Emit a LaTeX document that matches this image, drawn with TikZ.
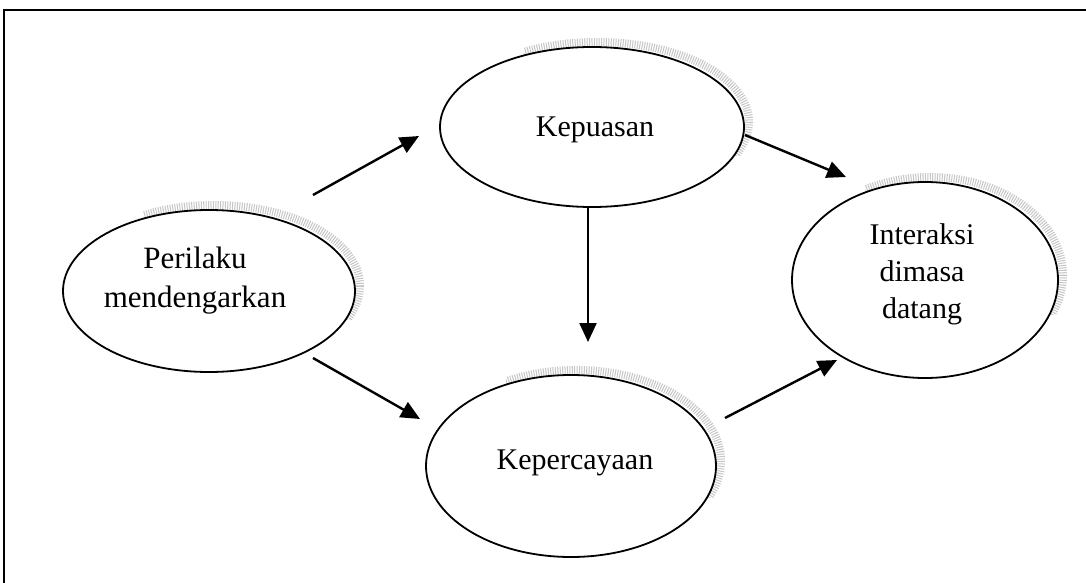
\documentclass[tikz,border=0pt]{standalone}
\usepackage{fontspec}
\setmainfont{Liberation Serif}
\usetikzlibrary{arrows.meta,shapes.geometric}

\tikzset{
  bubble/.style={ellipse, draw=black, line width=1.8pt, fill=white, inner sep=0pt},
  halo/.style={draw=gray!45, line width=8pt, dash pattern=on 1pt off 1.4pt},
  label text/.style={font=\fontsize{30}{37}\selectfont, align=center, inner sep=0pt},
  big text/.style={font=\fontsize{31}{39}\selectfont, align=center, inner sep=0pt},
  flow/.style={draw=black, line width=2.4pt, -{Triangle[length=19pt,width=17pt]}},
}

% shadow arc on the upper right of an ellipse: centre, x radius, y radius
\newcommand{\haloarc}[4]{%
  \begin{scope}
    \clip (#1-0.45*#3,#2-#4-20) rectangle (#1+#3+20,#2+0.35*#4);
    \draw[halo] (#1+5,#2-5) ellipse [x radius=#3, y radius=#4];
  \end{scope}}

\begin{document}
\begin{tikzpicture}[x=1pt,y=-1pt]
  \useasboundingbox (0,0) rectangle (1086,583);
  \fill[white] (0,0) rectangle (1086,583);

  % outer frame (top and left edges only)
  \draw[line width=1.5pt] (4,590) -- (4,10) -- (1095,10);

  % shadows
  \haloarc{209}{291}{146}{81}
  \haloarc{592}{127}{152}{80}
  \haloarc{571}{466}{145}{91}
  \haloarc{925}{280}{133}{98}

  % ellipses
  \node[bubble, minimum width=292pt, minimum height=162pt] (per) at (209,291) {};
  \node[bubble, minimum width=304pt, minimum height=160pt] (kep) at (592,127) {};
  \node[bubble, minimum width=290pt, minimum height=182pt] (kpc) at (571,466) {};
  \node[bubble, minimum width=266pt, minimum height=196pt] (int) at (925,280) {};

  % labels
  \node[big text] (tper) at (195,281) {Perilaku\\mendengarkan};
  \node[label text] (tkep) at (595,130) {Kepuasan};
  \node[label text] (tkpc) at (575,463) {Kepercayaan};
  \node[label text] (tint) at (922,274) {Interaksi\\dimasa\\datang};

  % arrow end points
  \coordinate (a1s) at (313,195); \coordinate (a1e) at (419,136);
  \coordinate (a2s) at (313,358); \coordinate (a2e) at (420,419);
  \coordinate (a3s) at (588,208); \coordinate (a3e) at (588,342);
  \coordinate (a4s) at (745,135); \coordinate (a4e) at (846,177);
  \coordinate (a5s) at (725,418); \coordinate (a5e) at (837,360);

  \draw[flow] (a1s) -- (a1e);
  \draw[flow] (a2s) -- (a2e);
  \draw[flow] (a3s) -- (a3e);
  \draw[flow] (a4s) -- (a4e);
  \draw[flow] (a5s) -- (a5e);
\end{tikzpicture}
\end{document}
